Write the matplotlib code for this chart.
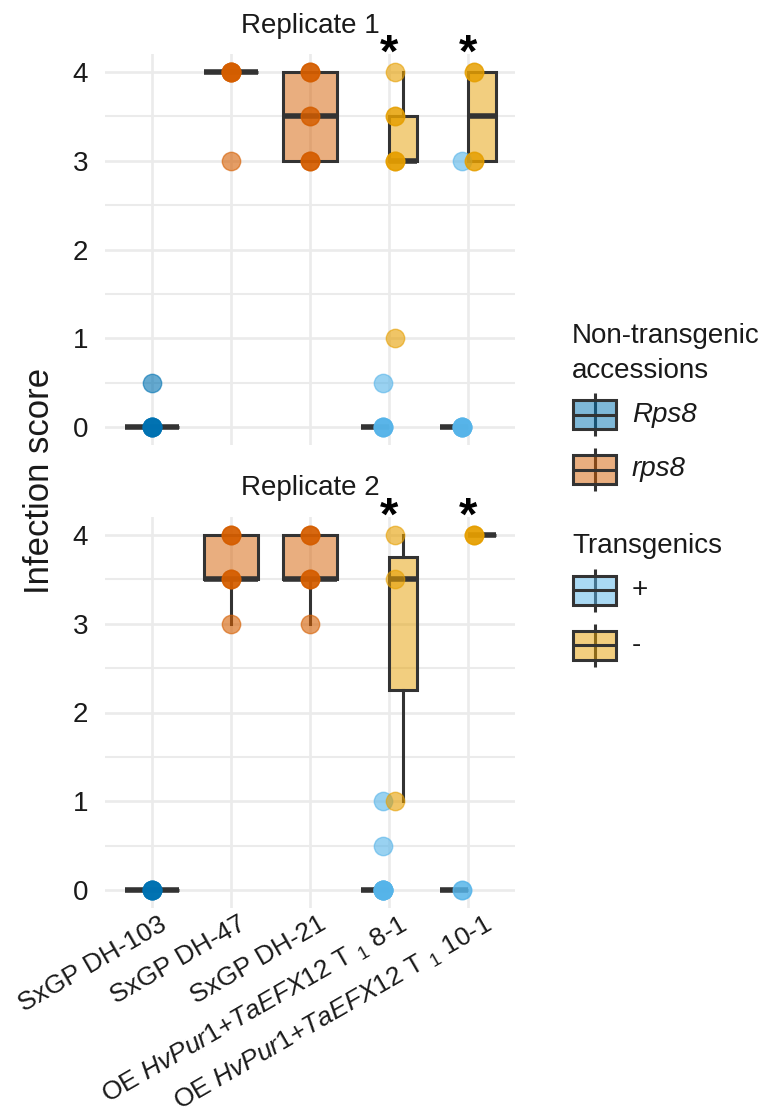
import matplotlib
matplotlib.use("Agg")
import matplotlib.pyplot as plt
from matplotlib.patches import Rectangle
from matplotlib.colors import to_rgba
from matplotlib.transforms import ScaledTranslation

plt.rcParams["font.family"] = ["Liberation Sans", "DejaVu Sans"]
plt.rcParams["mathtext.fontset"] = "custom"
plt.rcParams["mathtext.rm"] = "Liberation Sans"
plt.rcParams["mathtext.it"] = "Liberation Sans:italic"

# ---- data -------------------------------------------------------------
tick_labels = [
    "SxGP DH-103",
    "SxGP DH-47",
    "SxGP DH-21",
    r"OE $\mathit{HvPur1}$+$\mathit{TaEFX12}$ T $_{1}$ 8-1",
    r"OE $\mathit{HvPur1}$+$\mathit{TaEFX12}$ T $_{1}$ 10-1",
]
panel_titles = ["Replicate 1", "Replicate 2"]
significant = [4, 5]          # categories marked with an asterisk

# infection scores per line, replicate 1
rep1_dh103 = [0, 0, 0, 0, 0, 0.5]
rep1_dh47 = [3, 4, 4, 4, 4, 4]
rep1_dh21 = [3, 3, 3, 3.5, 3.5, 4, 4, 4]
rep1_t81_pos = [0, 0, 0, 0, 0.5]
rep1_t81_neg = [1, 3, 3, 3, 3.5, 3.5, 4]
rep1_t101_pos = [0, 0, 0, 0, 0, 3]
rep1_t101_neg = [3, 3, 4, 4]

# infection scores per line, replicate 2
rep2_dh103 = [0, 0, 0, 0, 0]
rep2_dh47 = [3, 3.5, 3.5, 3.5, 4, 4, 4]
rep2_dh21 = [3, 3.5, 3.5, 3.5, 4, 4, 4]
rep2_t81_pos = [0, 0, 0, 0, 0, 0, 0, 0.5, 1]
rep2_t81_neg = [1, 3.5, 4]
rep2_t101_pos = [0, 0]
rep2_t101_neg = [4, 4, 4]

# ---- styling ----------------------------------------------------------
colors = {"Rps8": "#0072B2", "rps8": "#D55E00", "+": "#56B4E9", "-": "#E69F00"}
EDGE = "#333333"
TXT = "#1a1a1a"
GRID = "#ebebeb"
XLABEL_SHIFT_PX = [7, 7, 8, 11, 16]

W, H = 763, 1115
fig = plt.figure(figsize=(W / 100, H / 100), dpi=100)


def px_axes(left, top, right, bottom, **kw):
    return fig.add_axes([left / W, 1 - bottom / H, (right - left) / W, (bottom - top) / H], **kw)


def draw_panel(ax, series, title, title_y, show_x):
    ax.set_xlim(0.4, 5.6)
    ax.set_ylim(-0.2, 4.2)
    for s in ax.spines.values():
        s.set_visible(False)
    ax.set_axisbelow(True)
    ax.set_xticks(range(1, 6))
    ax.set_yticks([0, 1, 2, 3, 4])
    ax.set_yticks([0.5, 1.5, 2.5, 3.5], minor=True)
    ax.grid(which="major", color=GRID, lw=1.9)
    ax.grid(which="minor", axis="y", color=GRID, lw=1.5)
    ax.tick_params(which="both", length=0)
    ax.tick_params(axis="y", labelsize=20, labelcolor=TXT, pad=12)
    if show_x:
        ax.set_xticklabels(tick_labels, rotation=30, ha="right", va="top",
                           rotation_mode="anchor", fontsize=19, color=TXT)
        ax.tick_params(axis="x", pad=3)
        for lab, dx in zip(ax.get_xticklabels(), XLABEL_SHIFT_PX):
            lab.set_transform(lab.get_transform()
                              + ScaledTranslation(dx / 100, 0, fig.dpi_scale_trans))
    else:
        ax.set_xticklabels([])

    for values, cat, box_off, width, pt_off, group in series:
        col = colors[group]
        ax.boxplot([values], positions=[cat + box_off], widths=[width],
                   patch_artist=True, showfliers=False, showcaps=False,
                   whis=1.5, manage_ticks=False,
                   boxprops=dict(facecolor=to_rgba(col, 0.5), edgecolor=EDGE, lw=2.2),
                   whiskerprops=dict(color=EDGE, lw=2.2),
                   medianprops=dict(color=EDGE, lw=4.0),
                   zorder=2)
        ax.scatter([cat + pt_off] * len(values), values, s=175, color=col,
                   alpha=0.6, edgecolors=col, linewidths=1.0, zorder=3)

    for cat in significant:
        ax.annotate("*", xy=(cat, 1), xycoords=("data", "axes fraction"),
                    xytext=(0, -12), textcoords="offset pixels",
                    ha="center", va="baseline", fontsize=34, fontweight="bold",
                    color="black", annotation_clip=False)

    fig.text(310 / W, 1 - title_y / H, title, ha="center", va="baseline",
             fontsize=20, color=TXT)


BOX_W = 0.68
SUB_W = 0.35
SUB_OFF = 0.175
PT_OFF = 0.07

rep1 = [
    (rep1_dh103, 1, 0, BOX_W, 0, "Rps8"),
    (rep1_dh47, 2, 0, BOX_W, 0, "rps8"),
    (rep1_dh21, 3, 0, BOX_W, 0, "rps8"),
    (rep1_t81_pos, 4, -SUB_OFF, SUB_W, -PT_OFF, "+"),
    (rep1_t81_neg, 4, SUB_OFF, SUB_W, PT_OFF, "-"),
    (rep1_t101_pos, 5, -SUB_OFF, SUB_W, -PT_OFF, "+"),
    (rep1_t101_neg, 5, SUB_OFF, SUB_W, PT_OFF, "-"),
]
rep2 = [
    (rep2_dh103, 1, 0, BOX_W, 0, "Rps8"),
    (rep2_dh47, 2, 0, BOX_W, 0, "rps8"),
    (rep2_dh21, 3, 0, BOX_W, 0, "rps8"),
    (rep2_t81_pos, 4, -SUB_OFF, SUB_W, -PT_OFF, "+"),
    (rep2_t81_neg, 4, SUB_OFF, SUB_W, PT_OFF, "-"),
    (rep2_t101_pos, 5, -SUB_OFF, SUB_W, -PT_OFF, "+"),
    (rep2_t101_neg, 5, SUB_OFF, SUB_W, PT_OFF, "-"),
]

ax1 = px_axes(104.6, 54.25, 515.4, 444.75)
ax2 = px_axes(104.6, 517.25, 515.4, 907.75)
draw_panel(ax1, rep1, panel_titles[0], 33, False)
draw_panel(ax2, rep2, panel_titles[1], 495, True)

fig.text(40 / W, 1 - 481 / H, "Infection score", rotation=90, ha="center",
         va="center", fontsize=25, color=TXT)

# ---- legend (pixel coordinates) ---------------------------------------
lax = fig.add_axes([0, 0, 1, 1], zorder=-1)
lax.set_xlim(0, W)
lax.set_ylim(H, 0)
lax.axis("off")


def legend_key(yc, group, label, italic):
    col = colors[group]
    x0, x1 = 573, 616
    xm = (x0 + x1) / 2
    lax.plot([xm, xm], [yc - 21.5, yc + 21.5], color=EDGE, lw=2.2, solid_capstyle="butt")
    lax.add_patch(Rectangle((x0, yc - 14.5), x1 - x0, 29, facecolor=to_rgba(col, 0.5),
                            edgecolor=EDGE, lw=2.2, zorder=3))
    lax.plot([x0, x1], [yc, yc], color=EDGE, lw=2.2, zorder=4, solid_capstyle="butt")
    lax.text(632, yc, label, va="center", ha="left", fontsize=20, color=TXT,
             style="italic" if italic else "normal")


lax.text(572, 343, "Non-transgenic", fontsize=20, color=TXT, va="baseline")
lax.text(572, 378, "accessions", fontsize=20, color=TXT, va="baseline")
legend_key(414.5, "Rps8", "Rps8", True)
legend_key(469.5, "rps8", "rps8", True)
lax.text(572, 553, "Transgenics", fontsize=20, color=TXT, va="baseline")
legend_key(590, "+", "+", False)
legend_key(645, "-", "-", False)

fig.savefig("out.png", dpi=100, facecolor="white")
